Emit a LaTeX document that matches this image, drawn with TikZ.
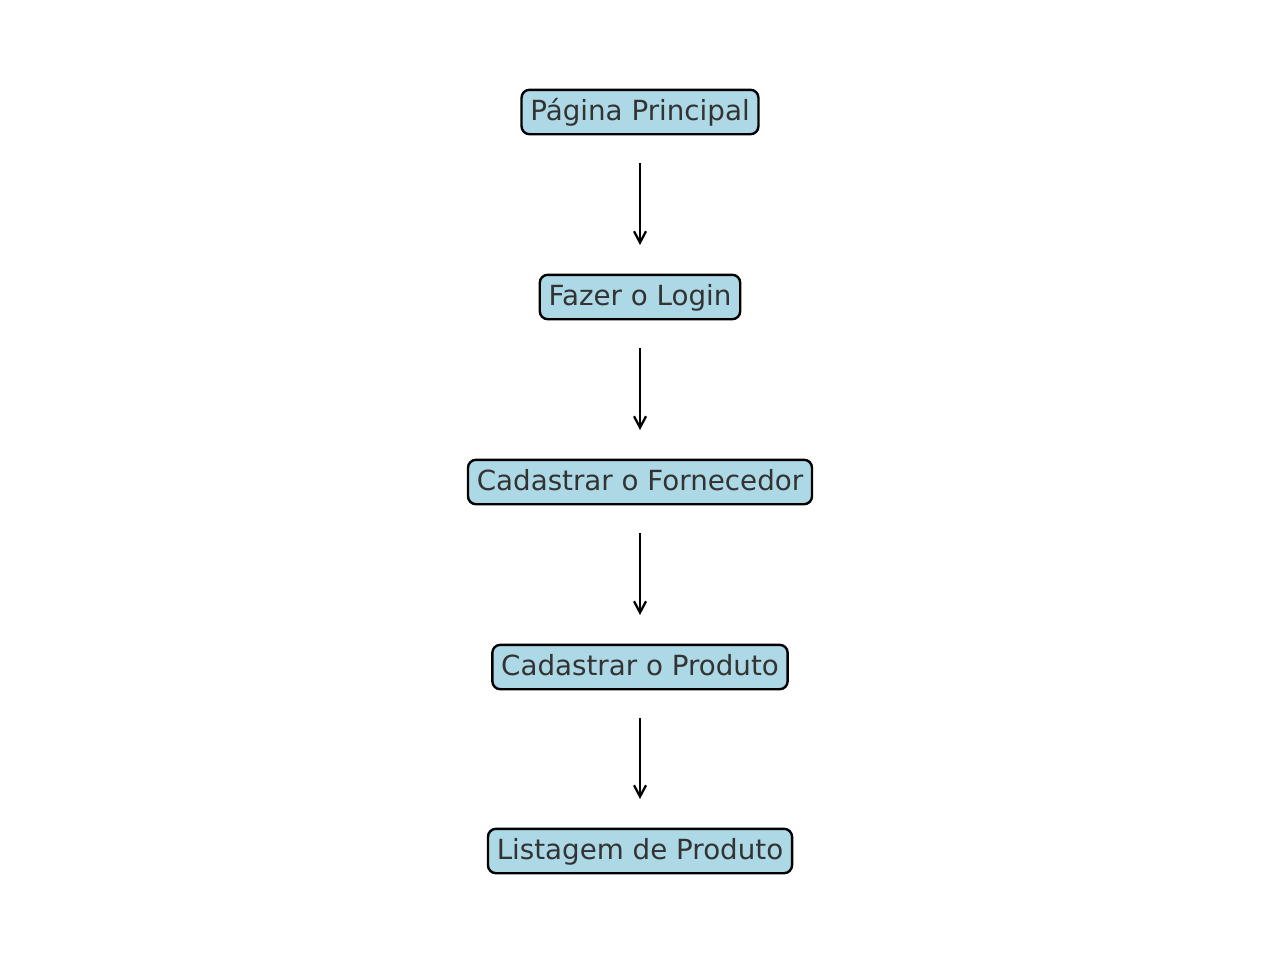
\documentclass[tikz,border=0pt]{standalone}
\usepackage{fontspec}
\setmainfont{DejaVu Sans}
\usetikzlibrary{arrows.meta}
\definecolor{boxfill}{HTML}{ADD8E6}
\definecolor{txt}{HTML}{333333}
\tikzset{
  stepbox/.style={draw=black, fill=boxfill, line width=1.8pt, rounded corners=6pt,
    text=txt, font=\fontsize{20.8pt}{24pt}\selectfont,
    text height=16.3pt, text depth=4.2pt, inner xsep=6.6pt, inner ysep=6.4pt},
  flow/.style={line width=1.7pt, -{Straight Barb[length=8.5pt,width=9pt,line width=1.7pt]},
    shorten <=38.25pt, shorten >=39pt}
}
\begin{document}
\begin{tikzpicture}[x=0.75pt,y=-0.75pt]
\useasboundingbox (0,0) rectangle (1280,964);
\node[stepbox] (n1) at (640,112) {Página Principal};
\node[stepbox] (n2) at (640,297) {Fazer o Login};
\node[stepbox] (n3) at (640,482) {Cadastrar o Fornecedor};
\node[stepbox] (n4) at (640,667) {Cadastrar o Produto};
\node[stepbox] (n5) at (640,851) {Listagem de Produto};
\draw[flow] (n1.center) -- (n2.center);
\draw[flow] (n2.center) -- (n3.center);
\draw[flow] (n3.center) -- (n4.center);
\draw[flow] (n4.center) -- (n5.center);
\end{tikzpicture}
\end{document}
